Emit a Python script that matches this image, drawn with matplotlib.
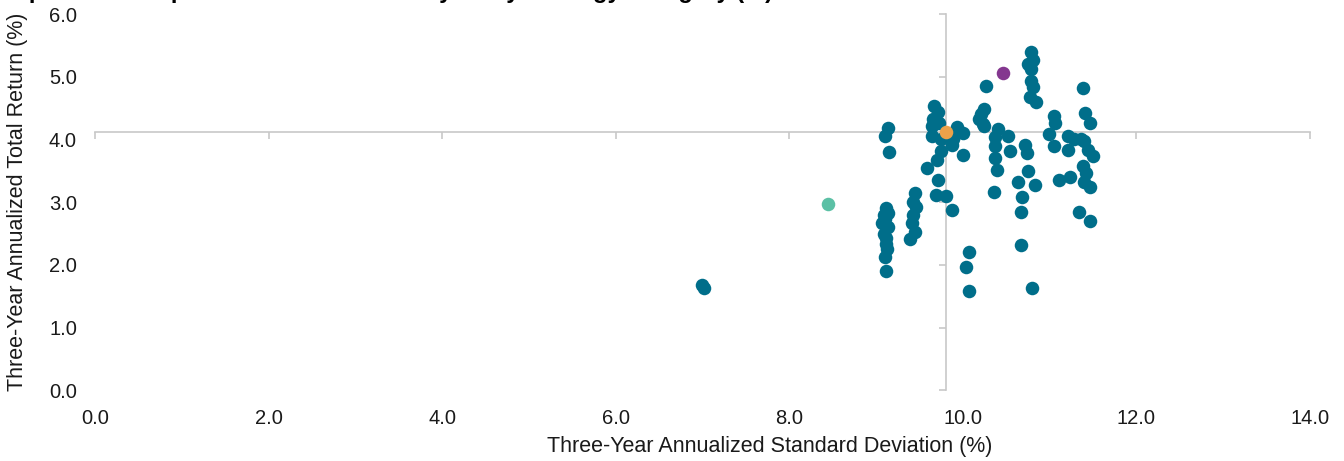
import matplotlib.pyplot as plt

plt.rcParams['font.family'] = ['Liberation Sans', 'DejaVu Sans']

# fund universe (three-year std dev %, three-year return %)
fund_sd = [6.99, 7.02,
           9.14, 9.10, 9.15, 9.11, 9.14, 9.09, 9.10, 9.07, 9.14, 9.09, 9.11, 9.12, 9.13, 9.10, 9.11,
           9.45, 9.43, 9.46, 9.43, 9.41, 9.45, 9.39,
           9.67, 9.71, 9.66, 9.72, 9.64, 9.65, 9.75, 9.93, 9.96, 9.89, 9.87, 9.75, 10.00, 9.70,
           9.59, 9.71, 9.69, 9.80, 9.88,
           10.07, 10.04, 10.07, 10.21, 10.23, 10.00, 10.27, 10.24, 10.19, 10.24, 10.40, 10.37,
           10.52, 10.37, 10.54, 10.37, 10.39, 10.36, 10.72, 10.74, 10.75, 10.63, 10.83, 10.68,
           10.67, 10.67, 10.80,
           10.78, 10.81, 10.75, 10.79, 10.78, 10.81, 10.77, 10.84,
           11.05, 11.06, 10.99, 11.05, 11.21, 11.28, 11.21, 11.11, 11.23,
           11.39, 11.41, 11.46, 11.40, 11.44, 11.50, 11.38, 11.42, 11.40, 11.46, 11.34, 11.46, 11.36]
fund_ret = [1.68, 1.63,
            4.19, 4.05, 3.80, 2.91, 2.83, 2.80, 2.73, 2.67, 2.61, 2.50, 2.43, 2.34, 2.25, 2.13, 1.90,
            3.15, 3.01, 2.93, 2.80, 2.67, 2.53, 2.42,
            4.54, 4.44, 4.33, 4.27, 4.21, 4.06, 4.01, 4.20, 4.12, 4.01, 3.91, 3.82, 3.75, 3.68,
            3.55, 3.36, 3.12, 3.10, 2.87,
            2.21, 1.96, 1.59, 4.41, 4.25, 4.11, 4.85, 4.49, 4.33, 4.21, 4.17, 4.04,
            4.06, 3.90, 3.82, 3.71, 3.51, 3.17, 3.92, 3.79, 3.50, 3.33, 3.27, 3.08,
            2.84, 2.32, 1.63,
            5.39, 5.26, 5.20, 5.13, 4.93, 4.84, 4.68, 4.60,
            4.38, 4.27, 4.09, 3.89, 4.06, 4.01, 3.84, 3.36, 3.41,
            4.82, 4.43, 4.26, 3.98, 3.84, 3.74, 3.58, 3.46, 3.33, 3.24, 2.85, 2.70, 4.01]

# highlighted points
avg_sd, avg_ret = 9.80, 4.12
hl1_sd, hl1_ret = 10.46, 5.06
hl2_sd, hl2_ret = 8.45, 2.97

xticks = [0, 2, 4, 6, 8, 10, 12, 14]
yticks = [0, 1, 2, 3, 4, 5, 6]

fig = plt.figure(figsize=(13.44, 4.61), dpi=100)
pos = [0.0707, 0.153, 0.904, 0.8166]

# labels axes
ax = fig.add_axes(pos)
ax.set_xlim(0, 14)
ax.set_ylim(0, 6)
for s in ax.spines.values():
    s.set_visible(False)
ax.set_xticks(xticks)
ax.set_xticklabels(['%.1f' % v for v in xticks])
ax.set_yticks(yticks)
ax.set_yticklabels(['%.1f' % v for v in yticks])
ax.tick_params(length=0, labelsize=14.5, colors='#1a1a1a')
ax.tick_params(axis='x', pad=13)
ax.tick_params(axis='y', pad=13)
ax.set_xlabel('Three-Year Annualized Standard Deviation (%)', fontsize=15.5, color='#1a1a1a')
ax.xaxis.set_label_coords(0.5556, -0.122)
ax.set_ylabel('Three-Year Annualized Total Return (%)', fontsize=15.5, color='#1a1a1a')
ax.yaxis.set_label_coords(-0.055, 0.5)

# crosshair axes
cx = fig.add_axes(pos, sharex=ax, sharey=ax)
cx.patch.set_visible(False)
cx.spines['top'].set_visible(False)
cx.spines['right'].set_visible(False)
cx.spines['left'].set_position(('data', avg_sd))
cx.spines['bottom'].set_position(('data', avg_ret))
for k in ['left', 'bottom']:
    cx.spines[k].set_color('#c8c8c8')
    cx.spines[k].set_linewidth(1.2)
cx.tick_params(length=5, width=1.2, color='#c8c8c8', labelbottom=False, labelleft=False)

cx.scatter(fund_sd, fund_ret, s=95, color='#006e8a', zorder=3, linewidths=0)
cx.scatter([avg_sd], [avg_ret], s=95, color='#eba24a', zorder=4, linewidths=0)
cx.scatter([hl1_sd], [hl1_ret], s=95, color='#84378f', zorder=4, linewidths=0)
cx.scatter([hl2_sd], [hl2_ret], s=95, color='#5bc0a5', zorder=4, linewidths=0)

fig.text(0.0, 1.005, 'Exposure Group Risk/Return Peer Analysis by Strategy Category (%)',
         fontsize=17, fontweight='bold', va='baseline', ha='left')

fig.savefig('out.png', dpi=100)
